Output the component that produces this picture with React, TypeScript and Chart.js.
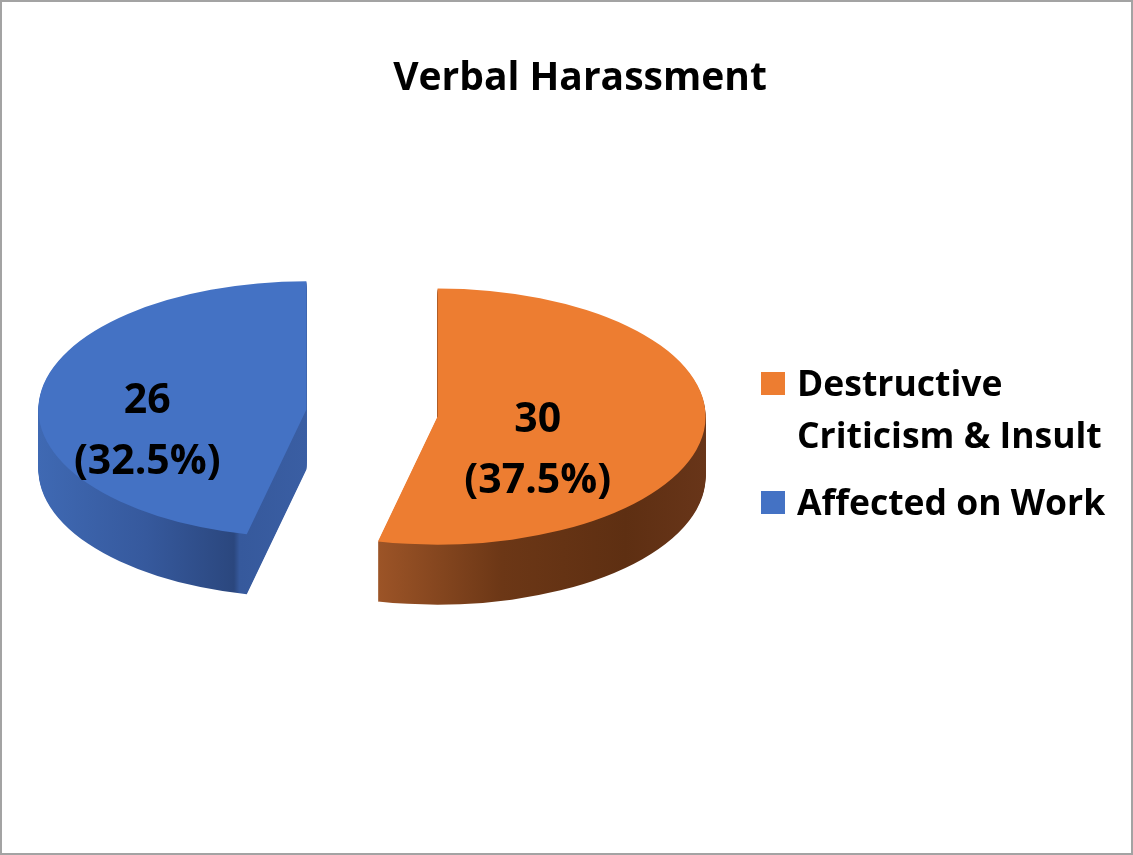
import React, { useEffect, useRef } from "react";
import { Chart, registerables } from "chart.js";

Chart.register(...registerables);

// ---- data ----
const chartTitle = "Verbal Harassment";
const categories = ["Destructive Criticism & Insult", "Affected on Work"];
const legendLines = [["Destructive", "Criticism & Insult"], ["Affected on Work"]];
const counts = [30, 26];
const percentLabels = ["37.5%", "32.5%"];

// ---- style ----
const topColors = ["#ED7D31", "#4472C4"];
const sideStops: [number, string][][] = [
  [
    [0.0, "#b0602c"],
    [0.39, "#9c5427"],
    [0.62, "#6c3716"],
    [0.85, "#5e2f12"],
    [1.0, "#683519"],
  ],
  [
    [0.0, "#3f69b3"],
    [0.2, "#36599d"],
    [0.365, "#2b477e"],
    [0.375, "#36599c"],
    [0.5, "#3a5ea3"],
    [1.0, "#3a5ea3"],
  ],
];
const W = 1133;
const H = 855;
const CENTER_X = 372;
const CENTER_Y = 413;
const RADIUS = 268;
const TILT = 0.478;
const DEPTH = 60;
const EXPLODE = 66;
const FONT = "'Open Sans', sans-serif";
const labelShift: [number, number][] = [
  [-33, 25],
  [-26, 28],
];

const pie3d = {
  id: "pie3d",
  beforeDatasetsDraw(chart: any) {
    const ctx: CanvasRenderingContext2D = chart.ctx;
    const meta = chart.getDatasetMeta(0);
    const arcs = meta.data as any[];
    if (!arcs.length) return false;
    const cx = arcs[0].x;
    const cy = arcs[0].y;
    const r = arcs[0].outerRadius;

    const drawArc = (arc: any, d: number, fill?: any) => {
      const half = (arc.startAngle + arc.endAngle) / 2;
      const ox = Math.cos(half) * EXPLODE;
      const oy = Math.sin(half) * EXPLODE;
      ctx.save();
      ctx.translate(0, cy + d);
      ctx.scale(1, TILT);
      ctx.translate(ox, oy - cy);
      if (fill) {
        const fake = Object.create(arc);
        fake.options = { ...arc.options, backgroundColor: fill, borderWidth: 0 };
        arc.draw.call(fake, ctx);
      } else {
        arc.draw(ctx);
      }
      ctx.restore();
    };

    arcs.forEach((arc, i) => {
      const g = ctx.createLinearGradient(cx - r, 0, cx + r, 0);
      sideStops[i].forEach(([p, c]) => g.addColorStop(p, c));
      for (let d = DEPTH; d >= 1; d--) drawArc(arc, d, g);
    });
    arcs.forEach((arc) => drawArc(arc, 0));
    return false;
  },
  afterDraw(chart: any) {
    const ctx: CanvasRenderingContext2D = chart.ctx;
    const meta = chart.getDatasetMeta(0);
    const arcs = meta.data as any[];
    ctx.save();
    ctx.fillStyle = "#000000";

    // title
    ctx.font = `bold 39px ${FONT}`;
    ctx.textAlign = "center";
    ctx.textBaseline = "alphabetic";
    ctx.fillText(chartTitle, 580, 90);

    // data labels
    const cy = arcs[0].y;
    ctx.font = `bold 41px ${FONT}`;
    arcs.forEach((arc, i) => {
      const p = arc.tooltipPosition();
      const half = (arc.startAngle + arc.endAngle) / 2;
      const ox = Math.cos(half) * EXPLODE;
      const oy = Math.sin(half) * EXPLODE;
      const sx = p.x + ox + labelShift[i][0];
      const sy = cy + TILT * (p.y + oy - cy) + labelShift[i][1];
      ctx.fillText(String(counts[i]), sx, sy - 17);
      ctx.fillText(`(${percentLabels[i]})`, sx, sy + 44);
    });

    // legend
    ctx.textAlign = "left";
    ctx.font = `bold 35.5px ${FONT}`;
    const baselines = [[396, 448], [515]];
    legendLines.forEach((lines, i) => {
      ctx.fillStyle = topColors[i];
      ctx.fillRect(761, baselines[i][0] - 24, 24, 23);
      ctx.fillStyle = "#000000";
      lines.forEach((t, j) => ctx.fillText(t, 797, baselines[i][j]));
    });
    ctx.restore();
  },
};

export default function App() {
  const ref = useRef<HTMLCanvasElement>(null);
  useEffect(() => {
    if (!ref.current) return;
    const chart = new Chart(ref.current, {
      type: "pie",
      data: {
        labels: categories,
        datasets: [
          {
            data: counts,
            backgroundColor: topColors,
            borderWidth: 0,
          },
        ],
      },
      options: {
        responsive: false,
        animation: false,
        events: [],
        radius: RADIUS,
        layout: {
          padding: {
            left: 0,
            top: 0,
            right: W - 2 * CENTER_X,
            bottom: H - 2 * CENTER_Y,
          },
        },
        plugins: {
          legend: { display: false },
          title: { display: false },
          tooltip: { enabled: false },
        },
      } as any,
      plugins: [pie3d as any],
    });
    return () => chart.destroy();
  }, []);
  return (
    <div style={{ position: "fixed", left: 0, top: 0, width: W, height: H, background: "#fff" }}>
      <canvas ref={ref} width={W} height={H} style={{ width: W, height: H, display: "block" }} />
      <div
        style={{
          position: "absolute",
          left: 0,
          top: 0,
          width: W,
          height: H,
          boxSizing: "border-box",
          border: "2px solid #a3a3a3",
          pointerEvents: "none",
        }}
      />
    </div>
  );
}
